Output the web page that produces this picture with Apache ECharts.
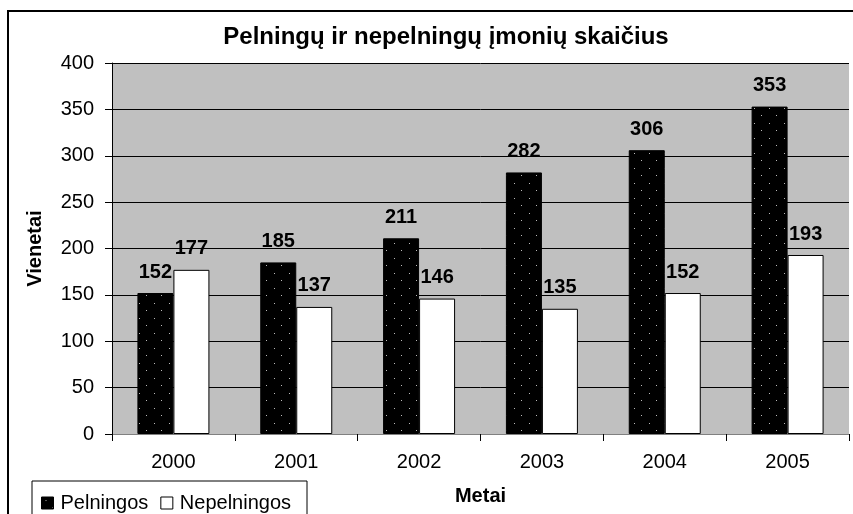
<!DOCTYPE html>
<html>
<head>
<meta charset="utf-8">
<script src="https://cdn.jsdelivr.net/npm/echarts@6/dist/echarts.min.js"></script>
<style>
  html, body { margin: 0; padding: 0; background: #fff; }
  #chart { width: 853px; height: 514px; }
</style>
</head>
<body>
<div id="chart"></div>
<script>
var years = ['2000', '2001', '2002', '2003', '2004', '2005'];
var pelningos = [152, 185, 211, 282, 306, 353];
var nepelningos = [177, 137, 146, 135, 152, 193];
var yTicks = { min: 0, max: 400, interval: 50 };

// black fill with small grey dots, like the Excel pattern
function dotPattern() {
    var c = document.createElement('canvas');
    c.width = 15; c.height = 15;
    var ctx = c.getContext('2d');
    ctx.fillStyle = '#000';
    ctx.fillRect(0, 0, 15, 15);
    ctx.fillStyle = '#bbb';
    ctx.fillRect(4, 3, 1, 1);
    ctx.fillRect(11, 10, 1, 1);
    return c;
}

var font = 'Liberation Sans, Arial, sans-serif';
var myChart = echarts.init(document.getElementById('chart'));
var option = {
    animation: false,
    title: {
        text: 'Pelningų ir nepelningų įmonių skaičius',
        left: 441,
        textAlign: 'center',
        top: 20,
        textStyle: { fontFamily: font, fontSize: 24, fontWeight: 'bold', color: '#000' }
    },
    graphic: [{
        type: 'rect',
        shape: { x: 8, y: 11, width: 900, height: 600 },
        style: { fill: 'none', stroke: '#000', lineWidth: 2 },
        silent: true
    }, {
        type: 'rect',
        shape: { x: 32, y: 481, width: 275, height: 40 },
        style: { fill: '#fff', stroke: '#000', lineWidth: 1 },
        silent: true,
        z: 1
    }],
    legend: {
        data: [
            { name: 'Pelningos', itemStyle: { borderColor: '#000', borderWidth: 1 } },
            { name: 'Nepelningos', itemStyle: { color: '#fff', borderColor: '#000', borderWidth: 1 } }
        ],
        left: 36,
        top: 488,
        itemWidth: 12,
        itemHeight: 12,
        itemGap: 12,
        icon: 'rect',
        selectedMode: false,
        z: 5,
        textStyle: { fontFamily: font, fontSize: 20, color: '#000', padding: [0, 0, 0, 2] }
    },
    grid: {
        left: 112,
        right: 4,
        top: 63,
        bottom: 80,
        outerBoundsMode: 'none',
        show: true,
        backgroundColor: '#c0c0c0',
        borderWidth: 0
    },
    xAxis: {
        type: 'category',
        data: years,
        name: 'Metai',
        nameLocation: 'middle',
        nameGap: 52,
        nameTextStyle: { fontFamily: font, fontSize: 20, fontWeight: 'bold', color: '#000' },
        axisLine: { lineStyle: { color: '#808080', width: 1 } },
        axisTick: { show: true, length: 7, lineStyle: { color: '#000' } },
        axisLabel: { fontFamily: font, fontSize: 20, color: '#000', margin: 18 }
    },
    yAxis: {
        type: 'value',
        min: yTicks.min,
        max: yTicks.max,
        interval: yTicks.interval,
        name: 'Vienetai',
        nameLocation: 'middle',
        nameGap: 67,
        nameTextStyle: { fontFamily: font, fontSize: 20, fontWeight: 'bold', color: '#000' },
        axisLine: { show: true, lineStyle: { color: '#000', width: 1 } },
        axisTick: { show: true, length: 7, lineStyle: { color: '#000' } },
        axisLabel: { fontFamily: font, fontSize: 20, color: '#000', margin: 18 },
        splitLine: { show: true, lineStyle: { color: '#000', width: 1 } }
    },
    series: [
        {
            name: 'Pelningos',
            type: 'bar',
            data: pelningos,
            barWidth: 36,
            barGap: '0%',
            itemStyle: { color: { image: dotPattern(), repeat: 'repeat' }, borderColor: '#000', borderWidth: 1 },
            label: {
                show: true, position: 'top', distance: 11,
                fontFamily: font, fontSize: 20, fontWeight: 'bold', color: '#000'
            }
        },
        {
            name: 'Nepelningos',
            type: 'bar',
            data: nepelningos,
            barWidth: 36,
            itemStyle: { color: '#fff', borderColor: '#000', borderWidth: 1 },
            label: {
                show: true, position: 'top', distance: 11,
                fontFamily: font, fontSize: 20, fontWeight: 'bold', color: '#000'
            }
        }
    ]
};
myChart.setOption(option);
</script>
</body>
</html>
